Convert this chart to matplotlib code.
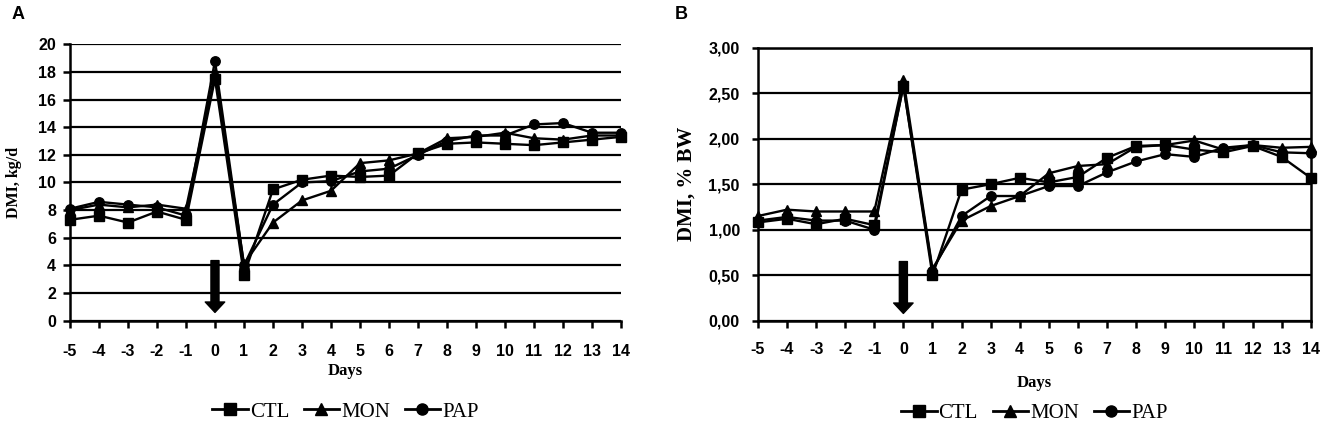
import matplotlib
matplotlib.use('Agg')
from matplotlib import pyplot as plt
from matplotlib.lines import Line2D

## Data ##
days = list(range(-5, 15))
day_labels = [str(d) for d in days]

# panel A: DMI, kg/d
ctl_kg = [7.3, 7.6, 7.1, 7.9, 7.3, 17.5, 3.3, 9.5, 10.2, 10.5, 10.4, 10.5, 12.1, 12.8, 12.9, 12.8, 12.7, 12.9, 13.1, 13.3]
mon_kg = [8.0, 8.4, 8.2, 8.4, 8.1, 17.9, 4.1, 7.1, 8.7, 9.4, 11.4, 11.6, 12.1, 13.2, 13.3, 13.6, 13.2, 13.1, 13.4, 13.4]
pap_kg = [8.1, 8.6, 8.4, 8.2, 7.6, 18.8, 4.0, 8.4, 10.0, 10.1, 10.8, 11.0, 12.0, 13.0, 13.4, 13.4, 14.2, 14.3, 13.6, 13.6]
yticks_a = [0, 2, 4, 6, 8, 10, 12, 14, 16, 18, 20]

# panel B: DMI, % BW
ctl_bw = [1.08, 1.12, 1.06, 1.12, 1.05, 2.58, 0.50, 1.44, 1.50, 1.57, 1.52, 1.58, 1.79, 1.92, 1.93, 1.88, 1.85, 1.92, 1.80, 1.57]
mon_bw = [1.15, 1.22, 1.20, 1.20, 1.20, 2.65, 0.57, 1.10, 1.26, 1.37, 1.62, 1.70, 1.72, 1.91, 1.93, 1.98, 1.88, 1.93, 1.90, 1.91]
pap_bw = [1.10, 1.14, 1.10, 1.10, 1.00, 2.58, 0.55, 1.15, 1.37, 1.37, 1.48, 1.48, 1.63, 1.75, 1.83, 1.80, 1.90, 1.93, 1.85, 1.84]
yticks_b = [0.0, 0.5, 1.0, 1.5, 2.0, 2.5, 3.0]
yticklabels_b = ['0,00', '0,50', '1,00', '1,50', '2,00', '2,50', '3,00']

groups = ['CTL', 'MON', 'PAP']
markers = {'CTL': 's', 'MON': '^', 'PAP': 'o'}

sans = 'Liberation Sans'
serif = 'Liberation Serif'

## Plotting ##
fig = plt.figure(figsize=(13.25, 4.24), dpi=100)
ax_a = fig.add_axes([0.0528, 0.2436, 0.4159, 0.652])
ax_b = fig.add_axes([0.572, 0.2436, 0.4172, 0.644])


def draw_panel(ax, series, yticks, yticklabels, ylabel, arrow_top, arrow_tip):
    ax.set_axisbelow(True)
    for g, vals in zip(groups, series):
        ax.plot(days, vals, color='black', lw=1.7, marker=markers[g],
                markersize=7.5 if g == 'MON' else 6.8, clip_on=False, zorder=3)
    ax.set_xlim(-5, 14)
    ax.set_ylim(yticks[0], yticks[-1])
    ax.set_xticks(days)
    ax.set_xticklabels(day_labels, fontfamily=sans, fontweight='bold', fontsize=11.5)
    ax.set_yticks(yticks)
    ax.set_yticklabels(yticklabels, fontfamily=sans, fontweight='bold', fontsize=11.5)
    ax.yaxis.grid(True, color='black', lw=1.6)
    ax.set_ylabel(ylabel, fontfamily=serif, fontweight='bold')
    ax.set_xlabel('Days', fontfamily=serif, fontweight='bold', fontsize=12)
    # treatment arrow at day 0
    ax.annotate('', xy=(0, arrow_tip), xytext=(0, arrow_top),
                arrowprops=dict(arrowstyle='simple,head_length=0.75,head_width=1.4,tail_width=0.58',
                                color='black', shrinkA=0, shrinkB=0, mutation_scale=10))
    handles = [Line2D([], [], color='black', lw=2, marker=markers[g], markersize=8) for g in groups]
    return handles


h = draw_panel(ax_a, [ctl_kg, mon_kg, pap_kg], yticks_a, [str(t) for t in yticks_a],
               'DMI, kg/d', 4.35, 0.6)
ax_a.spines['top'].set_visible(False)
ax_a.spines['right'].set_visible(False)
for s in ['left', 'bottom']:
    ax_a.spines[s].set_linewidth(1.8)
ax_a.tick_params(axis='y', length=5, width=1.8, pad=5)
ax_a.tick_params(axis='x', length=5, width=1.8, pad=12)
ax_a.yaxis.label.set_fontsize(11.5)
ax_a.yaxis.set_label_coords(-0.087, 0.5)
ax_a.xaxis.labelpad = 3
ax_a.legend(h, groups, loc='center', bbox_to_anchor=(0.5, -0.33), ncol=3, frameon=False,
            prop={'family': serif, 'size': 15}, handlelength=1.7, handletextpad=0.1,
            columnspacing=0.7)

draw_panel(ax_b, [ctl_bw, mon_bw, pap_bw], yticks_b, yticklabels_b,
           'DMI, % BW', 0.65, 0.08)
for s in ax_b.spines.values():
    s.set_linewidth(1.8)
ax_b.tick_params(axis='y', length=4, width=1.8, pad=9)
ax_b.tick_params(axis='x', length=5, width=1.8, pad=10)
ax_b.yaxis.label.set_fontsize(15)
ax_b.yaxis.set_label_coords(-0.11, 0.5)
ax_b.xaxis.labelpad = 13
ax_b.legend(h, groups, loc='center', bbox_to_anchor=(0.5, -0.34), ncol=3, frameon=False,
            prop={'family': serif, 'size': 15}, handlelength=1.7, handletextpad=0.1,
            columnspacing=0.7)

fig.text(0.009, 0.965, 'A', fontfamily=sans, fontweight='bold', fontsize=13, va='center')
fig.text(0.509, 0.965, 'B', fontfamily=sans, fontweight='bold', fontsize=13, va='center')

fig.savefig('out.png', dpi=100)
